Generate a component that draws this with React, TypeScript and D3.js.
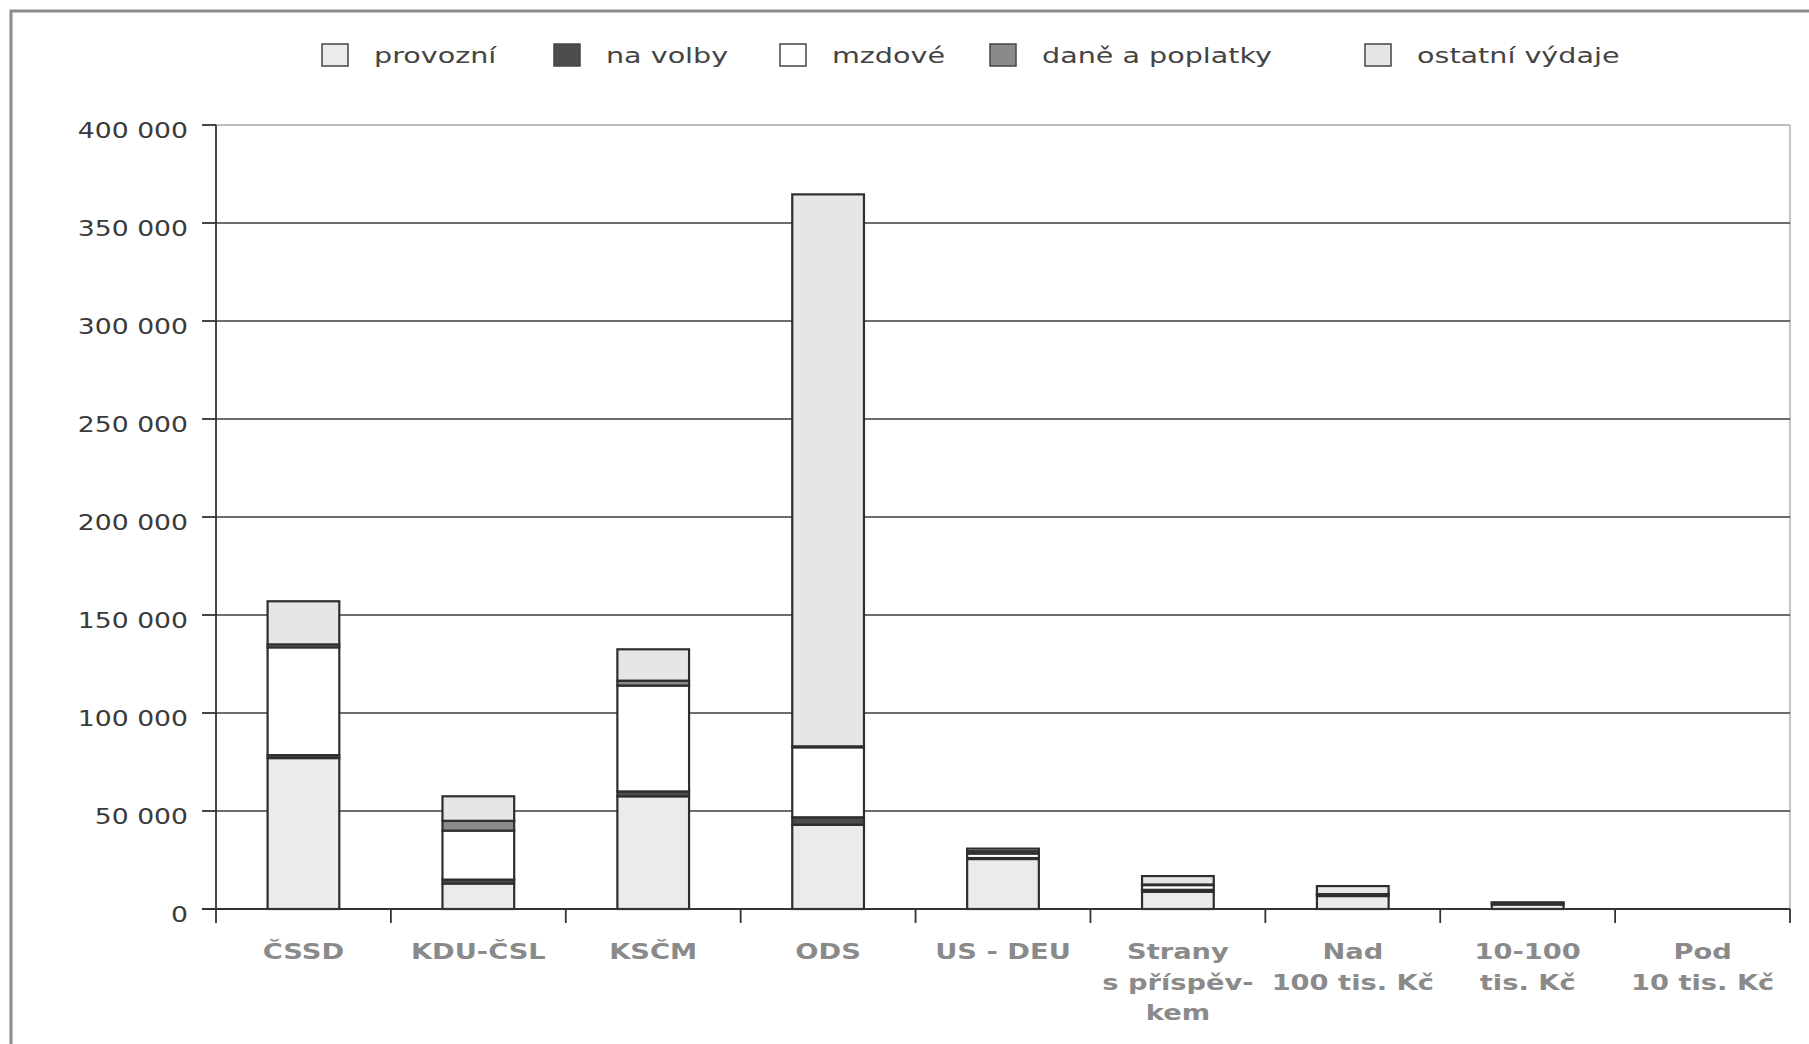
import React, { useEffect, useRef } from 'react'
import * as d3 from 'd3'

// --- data ---
const categories = ['ČSSD', 'KDU-ČSL', 'KSČM', 'ODS', 'US - DEU', 'Strany s příspěvkem', 'Nad 100 tis. Kč', '10-100 tis. Kč', 'Pod 10 tis. Kč']
const categoryLines = [
  ['ČSSD'],
  ['KDU-ČSL'],
  ['KSČM'],
  ['ODS'],
  ['US - DEU'],
  ['Strany', 's příspěv-', 'kem'],
  ['Nad', '100 tis. Kč'],
  ['10-100', 'tis. Kč'],
  ['Pod', '10 tis. Kč'],
]
const provozni = [77000, 13000, 57500, 43000, 25500, 8800, 6600, 2300, 0]
const naVolby = [1500, 2000, 2500, 3800, 500, 1000, 800, 800, 0]
const mzdove = [55000, 25000, 54000, 35700, 2300, 2400, 200, 0, 0]
const dane = [1500, 5000, 2500, 500, 1200, 300, 0, 0, 0]
const ostatni = [22000, 12500, 16000, 281600, 1300, 4300, 4100, 300, 0]

const seriesKeys = ['provozni', 'naVolby', 'mzdove', 'dane', 'ostatni']
const seriesNames = ['provozní', 'na volby', 'mzdové', 'daně a poplatky', 'ostatní výdaje']
const seriesColors = ['#ebebeb', '#4d4d4d', '#ffffff', '#8a8a8a', '#e6e6e6']
const yTicks = [0, 50000, 100000, 150000, 200000, 250000, 300000, 350000, 400000]

// legend box left edges (layout only)
const legendX = [322, 554, 780, 990, 1365]

const FONT = '"DejaVu Sans", Verdana, sans-serif'
const STRETCH = 1.3

export default function App() {
  const ref = useRef<SVGSVGElement>(null)

  useEffect(() => {
    if (!ref.current) return
    const svg = d3.select(ref.current)
    svg.selectAll('*').remove()

    const W = 1809
    const H = 1044
    const left = 216
    const right = 1790
    const top = 125
    const bottom = 909

    // outer frame
    svg.append('rect')
      .attr('x', 11).attr('y', 11)
      .attr('width', W + 40).attr('height', H + 40)
      .attr('fill', 'none')
      .attr('stroke', '#8c8c8c')
      .attr('stroke-width', 3)

    const rows = categories.map((c, i) => ({
      cat: c,
      provozni: provozni[i],
      naVolby: naVolby[i],
      mzdove: mzdove[i],
      dane: dane[i],
      ostatni: ostatni[i],
    }))

    const x = d3.scaleBand().domain(categories).range([left, right]).padding(0)
    const y = d3.scaleLinear().domain([0, 400000]).range([bottom, top])
    const fmt = d3.formatLocale({ thousands: ' ', grouping: [3], decimal: ',', currency: ['', ''] }).format(',')

    const stretched = (g: any, tx: number, ty: number) =>
      g.attr('transform', `translate(${tx},${ty}) scale(${STRETCH},1)`)

    // plot box (light) : top + right
    svg.append('line')
      .attr('x1', left).attr('x2', right)
      .attr('y1', y(400000)).attr('y2', y(400000))
      .attr('stroke', '#a8a8a8').attr('stroke-width', 1.5)
    svg.append('line')
      .attr('x1', right).attr('x2', right)
      .attr('y1', top).attr('y2', bottom)
      .attr('stroke', '#b0b0b0').attr('stroke-width', 1.5)

    // gridlines
    svg.append('g')
      .selectAll('line')
      .data(yTicks.filter(t => t > 0 && t < 400000))
      .enter()
      .append('line')
      .attr('x1', left).attr('x2', right)
      .attr('y1', d => y(d)).attr('y2', d => y(d))
      .attr('stroke', '#3e3e3e')
      .attr('stroke-width', 1.6)

    // y axis
    svg.append('line')
      .attr('x1', left).attr('x2', left)
      .attr('y1', top).attr('y2', bottom)
      .attr('stroke', '#333').attr('stroke-width', 1.8)
    const yt = svg.append('g').selectAll('g').data(yTicks).enter().append('g')
    yt.append('line')
      .attr('x1', left - 14).attr('x2', left)
      .attr('y1', d => y(d)).attr('y2', d => y(d))
      .attr('stroke', '#333').attr('stroke-width', 1.8)
    yt.append('text')
      .each(function (d) { stretched(d3.select(this), left - 28, y(d) + 6) })
      .attr('text-anchor', 'end')
      .attr('dy', '0.35em')
      .attr('font-family', FONT)
      .attr('font-size', 20.5)
      .attr('fill', '#3a3a3a')
      .text(d => fmt(d))

    // stacked bars
    const stack = d3.stack<any>().keys(seriesKeys)(rows)
    const barW = x.bandwidth() * 0.41
    stack.forEach((layer, si) => {
      svg.append('g')
        .selectAll('rect')
        .data(layer.filter(d => d[1] - d[0] > 0))
        .enter()
        .append('rect')
        .attr('x', d => (x(d.data.cat) as number) + x.bandwidth() / 2 - barW / 2)
        .attr('y', d => y(d[1]))
        .attr('width', barW)
        .attr('height', d => y(d[0]) - y(d[1]))
        .attr('fill', seriesColors[si])
        .attr('stroke', '#2e2e2e')
        .attr('stroke-width', 2.2)
    })

    // x axis
    svg.append('line')
      .attr('x1', left - 14).attr('x2', right)
      .attr('y1', bottom).attr('y2', bottom)
      .attr('stroke', '#333').attr('stroke-width', 1.8)
    const bounds = categories.map(c => x(c) as number).concat([right])
    svg.append('g')
      .selectAll('line')
      .data(bounds)
      .enter()
      .append('line')
      .attr('x1', d => d).attr('x2', d => d)
      .attr('y1', bottom).attr('y2', bottom + 14)
      .attr('stroke', '#333').attr('stroke-width', 1.8)

    const xl = svg.append('g').selectAll('g').data(categories).enter().append('g')
    xl.each(function (c, i) {
      const cx = (x(c) as number) + x.bandwidth() / 2
      categoryLines[i].forEach((ln, li) => {
        stretched(d3.select(this).append('text'), cx, 952 + li * 30.5)
          .attr('text-anchor', 'middle')
          .attr('dy', '0.35em')
          .attr('font-family', FONT)
          .attr('font-weight', 'bold')
          .attr('font-size', 21)
          .attr('fill', '#8a8a8a')
          .text(ln)
      })
    })

    // legend
    const lg = svg.append('g').selectAll('g').data(seriesNames).enter().append('g')
    lg.append('rect')
      .attr('x', (_, i) => legendX[i])
      .attr('y', 44)
      .attr('width', 26)
      .attr('height', 22)
      .attr('fill', (_, i) => seriesColors[i])
      .attr('stroke', '#444')
      .attr('stroke-width', 1.5)
    lg.append('text')
      .each(function (_, i) { stretched(d3.select(this), legendX[i] + 52, 55) })
      .attr('dy', '0.35em')
      .attr('font-family', FONT)
      .attr('font-size', 22)
      .attr('fill', '#444')
      .text(d => d)
  }, [])

  return (
    <svg
      ref={ref}
      width={1809}
      height={1044}
      style={{ position: 'absolute', left: 0, top: 0, display: 'block', background: '#fff' }}
    />
  )
}
